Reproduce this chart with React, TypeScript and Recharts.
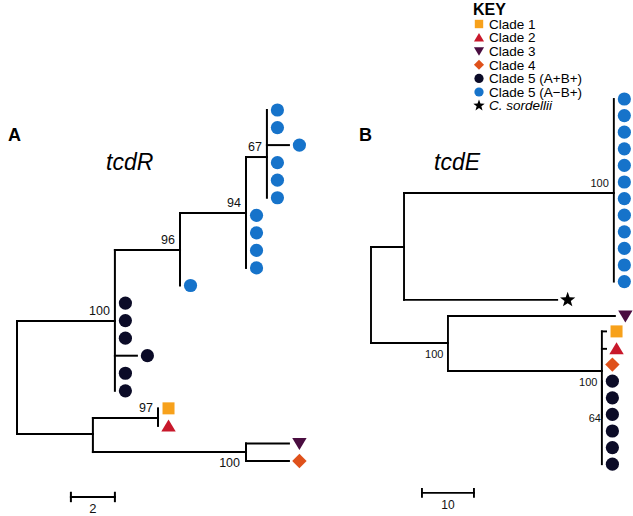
import React from 'react';
import { ComposedChart, XAxis, YAxis, Scatter, ReferenceLine, Legend, Customized } from 'recharts';

const W = 633;
const H = 516;
const FONT = '"Liberation Sans", Arial, Helvetica, sans-serif';

// ---------- clades (key) ----------
const cladeIds = ['c1', 'c2', 'c3', 'c4', 'c5ab', 'c5b', 'cs'];
const cladeNames = ['Clade 1', 'Clade 2', 'Clade 3', 'Clade 4', 'Clade 5 (A+B+)', 'Clade 5 (A\u2212B+)', 'C. sordellii'];
const cladeColors = ['#F7A11B', '#C8182B', '#4A0D40', '#DF511B', '#0B0B27', '#1673CA', '#000000'];

// ---------- Panel A: tcdR (branch length units, row index) ----------
const nodesA = [
  { id: 'rootA', parent: '', dist: 0, row: 15.2 },
  { id: 'a100', parent: 'rootA', dist: 4.45, row: 12.02 },
  { id: 'a96', parent: 'a100', dist: 7.41, row: 7.98 },
  { id: 'a94', parent: 'a96', dist: 10.41, row: 5.87 },
  { id: 'a67', parent: 'a94', dist: 11.36, row: 2.68 },
  { id: 'aLow', parent: 'rootA', dist: 3.45, row: 18.46 },
  { id: 'a97', parent: 'aLow', dist: 6.41, row: 17.55 },
  { id: 'a100b', parent: 'aLow', dist: 10.41, row: 19.49 },
];
const leavesA = [
  { parent: 'a67', dist: 11.36, row: 0, clade: 'c5b' },
  { parent: 'a67', dist: 11.36, row: 1, clade: 'c5b' },
  { parent: 'a67', dist: 12.36, row: 2, clade: 'c5b' },
  { parent: 'a67', dist: 11.36, row: 3, clade: 'c5b' },
  { parent: 'a67', dist: 11.36, row: 4, clade: 'c5b' },
  { parent: 'a67', dist: 11.36, row: 5, clade: 'c5b' },
  { parent: 'a94', dist: 10.41, row: 6, clade: 'c5b' },
  { parent: 'a94', dist: 10.41, row: 7, clade: 'c5b' },
  { parent: 'a94', dist: 10.41, row: 8, clade: 'c5b' },
  { parent: 'a94', dist: 10.41, row: 9, clade: 'c5b' },
  { parent: 'a96', dist: 7.41, row: 10, clade: 'c5b' },
  { parent: 'a100', dist: 4.45, row: 11, clade: 'c5ab' },
  { parent: 'a100', dist: 4.45, row: 12, clade: 'c5ab' },
  { parent: 'a100', dist: 4.45, row: 13, clade: 'c5ab' },
  { parent: 'a100', dist: 5.45, row: 14, clade: 'c5ab' },
  { parent: 'a100', dist: 4.45, row: 15, clade: 'c5ab' },
  { parent: 'a100', dist: 4.45, row: 16, clade: 'c5ab' },
  { parent: 'a97', dist: 6.41, row: 17, clade: 'c1' },
  { parent: 'a97', dist: 6.41, row: 18, clade: 'c2' },
  { parent: 'a100b', dist: 12.36, row: 19, clade: 'c3' },
  { parent: 'a100b', dist: 12.36, row: 20, clade: 'c4' },
];
const supportA = [
  { node: 'a67', value: '67', side: 'above' },
  { node: 'a94', value: '94', side: 'above' },
  { node: 'a96', value: '96', side: 'above' },
  { node: 'a100', value: '100', side: 'above' },
  { node: 'a97', value: '97', side: 'above' },
  { node: 'a100b', value: '100', side: 'below' },
];
const scaleA = { from: 2.45, length: 2, row: 22.05, label: '2' };

// ---------- Panel B: tcdE ----------
const nodesB = [
  { id: 'rootB', parent: '', dist: 0, row: 11.8 },
  { id: 'bU', parent: 'rootB', dist: 6.35, row: 8.92 },
  { id: 'bBlue', parent: 'bU', dist: 46.7, row: 5.66 },
  { id: 'bL', parent: 'rootB', dist: 14.8, row: 14.7 },
  { id: 'bC', parent: 'bL', dist: 44.4, row: 16.39 },
  { id: 'b64', parent: 'bC', dist: 44.4, row: 19.2 },
];
const leavesB = [
  ...[0, 1, 2, 3, 4, 5, 6, 7, 8, 9, 10, 11].map((r) => ({ parent: 'bBlue', dist: 46.7, row: r, clade: 'c5b' })),
  { parent: 'bU', dist: 35.8, row: 12.1, clade: 'cs' },
  { parent: 'bL', dist: 46.9, row: 13.07, clade: 'c3' },
  { parent: 'bC', dist: 45.2, row: 14, clade: 'c1' },
  { parent: 'bC', dist: 45.2, row: 15.05, clade: 'c2' },
  { parent: 'bC', dist: 44.4, row: 16, clade: 'c4' },
  ...[17, 18, 19, 20, 21, 22].map((r) => ({ parent: 'b64', dist: 44.4, row: r, clade: 'c5ab' })),
];
const supportB = [
  { node: 'bBlue', value: '100', side: 'above' },
  { node: 'bL', value: '100', side: 'below' },
  { node: 'bC', value: '100', side: 'below' },
  { node: 'b64', value: '64', side: 'left' },
];
const scaleB = { from: 9.8, length: 10, row: 23.73, label: '10' };

// ---------- layout (pixel mapping for the two hidden axis pairs) ----------
const layoutA = { x0: 17, pxPerUnit: 22, y0: 110, pxPerRow: 17.55 };
const layoutB = { x0: 371, pxPerUnit: 5.2, y0: 99, pxPerRow: 16.6 };
const xDomain = (l: any) => [-l.x0 / l.pxPerUnit, (W - l.x0) / l.pxPerUnit];
const yDomain = (l: any) => [-l.y0 / l.pxPerRow, (H - l.y0) / l.pxPerRow];

type Pt = { x: number; y: number };

function buildSegments(nodes: any[], leaves: any[]): Pt[][] {
  const byId: Record<string, any> = {};
  nodes.forEach((n) => (byId[n.id] = n));
  const children: Record<string, any[]> = {};
  const segs: Pt[][] = [];
  [...nodes, ...leaves].forEach((item) => {
    if (!item.parent) return;
    const p = byId[item.parent];
    (children[item.parent] = children[item.parent] || []).push(item);
    if (item.dist > p.dist + 1e-9) {
      segs.push([{ x: p.dist, y: item.row }, { x: item.dist, y: item.row }]);
    }
  });
  nodes.forEach((n) => {
    const ch = children[n.id];
    if (!ch) return;
    const rows = ch.map((c) => c.row);
    segs.push([{ x: n.dist, y: Math.min(...rows) }, { x: n.dist, y: Math.max(...rows) }]);
  });
  return segs;
}

function scaleSegments(s: any): Pt[][] {
  const t = 0.24;
  return [
    [{ x: s.from, y: s.row }, { x: s.from + s.length, y: s.row }],
    [{ x: s.from, y: s.row - t }, { x: s.from, y: s.row + t }],
    [{ x: s.from + s.length, y: s.row - t }, { x: s.from + s.length, y: s.row + t }],
  ];
}

function supportData(nodes: any[], support: any[]) {
  return support.map((s) => {
    const n = nodes.find((m) => m.id === s.node);
    return { dist: n.dist, row: n.row, value: s.value, side: s.side };
  });
}

// ---------- markers ----------
function Marker({ clade, x, y, s }: { clade: string; x: number; y: number; s: number }) {
  const fill = cladeColors[cladeIds.indexOf(clade)];
  switch (clade) {
    case 'c1':
      return <rect x={x - 6 * s} y={y - 6 * s} width={12 * s} height={12 * s} fill={fill} />;
    case 'c2':
      return <polygon points={`${x},${y - 6.5 * s} ${x + 7.2 * s},${y + 5.5 * s} ${x - 7.2 * s},${y + 5.5 * s}`} fill={fill} />;
    case 'c3':
      return <polygon points={`${x - 7.2 * s},${y - 5.5 * s} ${x + 7.2 * s},${y - 5.5 * s} ${x},${y + 6.5 * s}`} fill={fill} />;
    case 'c4':
      return <polygon points={`${x},${y - 7.2 * s} ${x + 7.2 * s},${y} ${x},${y + 7.2 * s} ${x - 7.2 * s},${y}`} fill={fill} />;
    case 'cs': {
      const pts: string[] = [];
      for (let i = 0; i < 10; i++) {
        const r = (i % 2 === 0 ? 8 : 3.3) * s;
        const a = -Math.PI / 2 + (i * Math.PI) / 5;
        pts.push(`${x + r * Math.cos(a)},${y + r * Math.sin(a)}`);
      }
      return <polygon points={pts.join(' ')} fill={fill} />;
    }
    default:
      return <circle cx={x} cy={y} r={6.6 * s} fill={fill} />;
  }
}

const LeafShape = (props: any) => {
  const { cx, cy, payload } = props;
  if (cx == null || cy == null) return null;
  return <Marker clade={payload.clade} x={cx + 10.5} y={cy} s={1} />;
};

const TEXT_STYLE = { fill: '#111', stroke: 'none' };

const makeSupportShape = (fontSize: number, belowDx: number) => (props: any) => {
  const { cx, cy, payload } = props;
  if (cx == null || cy == null) return null;
  let x = cx - 5;
  let y = cy - 6;
  if (payload.side === 'below') {
    x = cx - belowDx;
    y = cy + 15;
  } else if (payload.side === 'left') {
    x = cx - 1;
    y = cy + 4;
  }
  return (
    <text x={x} y={y} textAnchor="end" fontSize={fontSize} fontFamily={FONT} style={TEXT_STYLE}>
      {payload.value}
    </text>
  );
};

const makeScaleLabelShape = (fontSize: number, dy: number) => (props: any) => {
  const { cx, cy, payload } = props;
  if (cx == null || cy == null) return null;
  return (
    <text x={cx} y={cy + dy} textAnchor="middle" fontSize={fontSize} fontFamily={FONT} style={TEXT_STYLE}>
      {payload.label}
    </text>
  );
};

const KeyContent = () => (
  <svg width={171} height={116} style={{ display: 'block' }}>
    <text x={11} y={15} fontSize={16} fontWeight="bold" fontFamily={FONT} fill="#000">
      KEY
    </text>
    {cladeIds.map((c, i) => {
      const cy = 24 + i * 13.6;
      return (
        <g key={c}>
          <Marker clade={c} x={17} y={cy} s={c === 'cs' ? 0.75 : 0.7} />
          <text
            x={27}
            y={cy + 4.8}
            fontSize={13.5}
            fontFamily={FONT}
            fontStyle={c === 'cs' ? 'italic' : 'normal'}
            fill="#000"
          >
            {cladeNames[i]}
          </text>
        </g>
      );
    })}
  </svg>
);

const Titles = () => (
  <g fontFamily={FONT} fill="#000">
    <text x={8} y={141} fontSize={18} fontWeight="bold">A</text>
    <text x={106} y={170} fontSize={23} fontStyle="italic">tcdR</text>
    <text x={359} y={141} fontSize={18} fontWeight="bold">B</text>
    <text x={434} y={170} fontSize={23} fontStyle="italic">tcdE</text>
  </g>
);

export default function App() {
  const segA = [...buildSegments(nodesA, leavesA), ...scaleSegments(scaleA)];
  const segB = [...buildSegments(nodesB, leavesB), ...scaleSegments(scaleB)];
  const supA = supportData(nodesA, supportA);
  const supB = supportData(nodesB, supportB);
  const scaleLabA = [{ dist: scaleA.from + scaleA.length / 2, row: scaleA.row, label: scaleA.label }];
  const scaleLabB = [{ dist: scaleB.from + scaleB.length / 2, row: scaleB.row, label: scaleB.label }];

  return (
    <div style={{ position: 'absolute', left: 0, top: 0, width: W, height: H, background: '#fff' }}>
      <ComposedChart width={W} height={H} margin={{ top: 0, right: 0, bottom: 0, left: 0 }}>
        <XAxis xAxisId="a" type="number" dataKey="dist" domain={xDomain(layoutA)} allowDataOverflow hide />
        <YAxis yAxisId="a" type="number" dataKey="row" domain={yDomain(layoutA)} allowDataOverflow reversed hide />
        <XAxis xAxisId="b" type="number" dataKey="dist" domain={xDomain(layoutB)} allowDataOverflow hide />
        <YAxis yAxisId="b" type="number" dataKey="row" domain={yDomain(layoutB)} allowDataOverflow reversed hide />

        {segA.map((s, i) => (
          <ReferenceLine
            key={'a' + i}
            xAxisId="a"
            yAxisId="a"
            segment={s}
            stroke="#000"
            strokeWidth={2}
            strokeLinecap="square"
            ifOverflow="visible"
          />
        ))}
        {segB.map((s, i) => (
          <ReferenceLine
            key={'b' + i}
            xAxisId="b"
            yAxisId="b"
            segment={s}
            stroke="#000"
            strokeWidth={1.9}
            strokeLinecap="square"
            ifOverflow="visible"
          />
        ))}

        <Scatter xAxisId="a" yAxisId="a" data={leavesA} shape={LeafShape} isAnimationActive={false} />
        <Scatter xAxisId="b" yAxisId="b" data={leavesB} shape={LeafShape} isAnimationActive={false} />
        <Scatter xAxisId="a" yAxisId="a" data={supA} shape={makeSupportShape(12.5, 6)} isAnimationActive={false} />
        <Scatter xAxisId="b" yAxisId="b" data={supB} shape={makeSupportShape(11, 4.5)} isAnimationActive={false} />
        <Scatter xAxisId="a" yAxisId="a" data={scaleLabA} shape={makeScaleLabelShape(13, 16)} isAnimationActive={false} />
        <Scatter xAxisId="b" yAxisId="b" data={scaleLabB} shape={makeScaleLabelShape(12, 16)} isAnimationActive={false} />

        <Customized component={Titles} />
        <Legend
          layout="vertical"
          align="center"
          verticalAlign="middle"
          content={KeyContent}
          wrapperStyle={{ left: 462, top: 0, width: 171, height: 116 }}
        />
      </ComposedChart>
    </div>
  );
}
